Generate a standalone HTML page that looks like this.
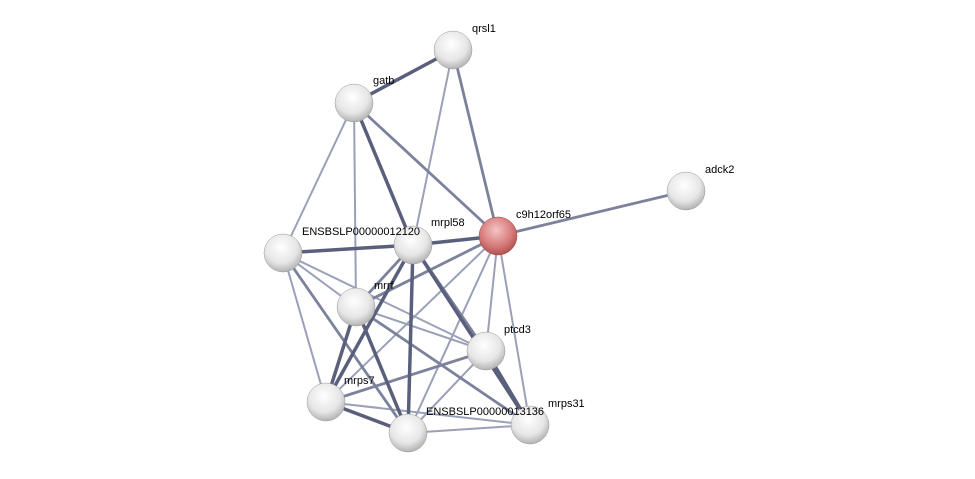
<!DOCTYPE html>
<html><head><style>body{margin:0;background:#fff}svg{display:block}text{font-family:"Liberation Sans",sans-serif;font-size:11px;fill:#000}</style></head>
<body>
<svg width="975" height="479" viewBox="0 0 975 479">
<defs>
<radialGradient id="g" cx="0.45" cy="0.35" r="0.7"><stop offset="0" stop-color="#fff"/><stop offset="0.6" stop-color="#e6e6e6"/><stop offset="1" stop-color="#a8a8a8"/></radialGradient>
<radialGradient id="r" cx="0.45" cy="0.35" r="0.7"><stop offset="0" stop-color="#f4c4c4"/><stop offset="0.6" stop-color="#d77a7a"/><stop offset="1" stop-color="#a84848"/></radialGradient>
</defs>
<g stroke-linecap="round">
<g stroke="#9aa0b8" stroke-width="2">
<line x1="453" y1="50" x2="413" y2="245"/>
<line x1="354" y1="103" x2="283" y2="253"/>
<line x1="354" y1="103" x2="356" y2="307"/>
<line x1="283" y1="253" x2="356" y2="307"/>
<line x1="283" y1="253" x2="486" y2="351"/>
<line x1="283" y1="253" x2="326" y2="402"/>
<line x1="498" y1="236" x2="326" y2="402"/>
<line x1="498" y1="236" x2="408" y2="433"/>
<line x1="498" y1="236" x2="530" y2="425"/>
<line x1="498" y1="236" x2="486" y2="351"/>
<line x1="356" y1="307" x2="486" y2="351"/>
<line x1="486" y1="351" x2="408" y2="433"/>
<line x1="408" y1="433" x2="530" y2="425"/>
<line x1="326" y1="402" x2="530" y2="425"/>
</g>
<g stroke="#7c829c" stroke-width="2.8">
<line x1="453" y1="50" x2="498" y2="236"/>
<line x1="354" y1="103" x2="498" y2="236"/>
<line x1="686" y1="191" x2="498" y2="236"/>
<line x1="498" y1="236" x2="356" y2="307"/>
<line x1="413" y1="245" x2="486" y2="351"/>
<line x1="283" y1="253" x2="408" y2="433"/>
<line x1="356" y1="307" x2="530" y2="425"/>
<line x1="326" y1="402" x2="486" y2="351"/>
<line x1="413" y1="245" x2="356" y2="307"/>
</g>
<g stroke="#5a607c" stroke-width="3.5">
<line x1="453" y1="50" x2="354" y2="103"/>
<line x1="354" y1="103" x2="413" y2="245"/>
<line x1="283" y1="253" x2="413" y2="245"/>
<line x1="413" y1="245" x2="498" y2="236"/>
<line x1="413" y1="245" x2="326" y2="402"/>
<line x1="413" y1="245" x2="408" y2="433"/>
<line x1="413" y1="245" x2="530" y2="425"/>
<line x1="356" y1="307" x2="326" y2="402"/>
<line x1="356" y1="307" x2="408" y2="433"/>
<line x1="486" y1="351" x2="530" y2="425"/>
<line x1="326" y1="402" x2="408" y2="433"/>
</g>
</g>
<g>
<circle cx="453" cy="50" r="19" fill="url(#g)" stroke="#999" stroke-width="0.5"/>
<circle cx="354" cy="103" r="19" fill="url(#g)" stroke="#999" stroke-width="0.5"/>
<circle cx="686" cy="191" r="19" fill="url(#g)" stroke="#999" stroke-width="0.5"/>
<circle cx="498" cy="236" r="19" fill="url(#r)" stroke="#944" stroke-width="0.5"/>
<circle cx="283" cy="253" r="19" fill="url(#g)" stroke="#999" stroke-width="0.5"/>
<circle cx="413" cy="245" r="19" fill="url(#g)" stroke="#999" stroke-width="0.5"/>
<circle cx="356" cy="307" r="19" fill="url(#g)" stroke="#999" stroke-width="0.5"/>
<circle cx="486" cy="351" r="19" fill="url(#g)" stroke="#999" stroke-width="0.5"/>
<circle cx="326" cy="402" r="19" fill="url(#g)" stroke="#999" stroke-width="0.5"/>
<circle cx="408" cy="433" r="19" fill="url(#g)" stroke="#999" stroke-width="0.5"/>
<circle cx="530" cy="425" r="19" fill="url(#g)" stroke="#999" stroke-width="0.5"/>
</g>
<text x="472" y="32">qrsl1</text>
<text x="373" y="84">gatb</text>
<text x="705" y="173">adck2</text>
<text x="516" y="218">c9h12orf65</text>
<text x="302" y="235">ENSBSLP00000012120</text>
<text x="431" y="226">mrpl58</text>
<text x="374" y="289">mrrf</text>
<text x="504" y="333">ptcd3</text>
<text x="344" y="384">mrps7</text>
<text x="426" y="415">ENSBSLP00000013136</text>
<text x="548" y="407">mrps31</text>
</svg>
</body></html>
